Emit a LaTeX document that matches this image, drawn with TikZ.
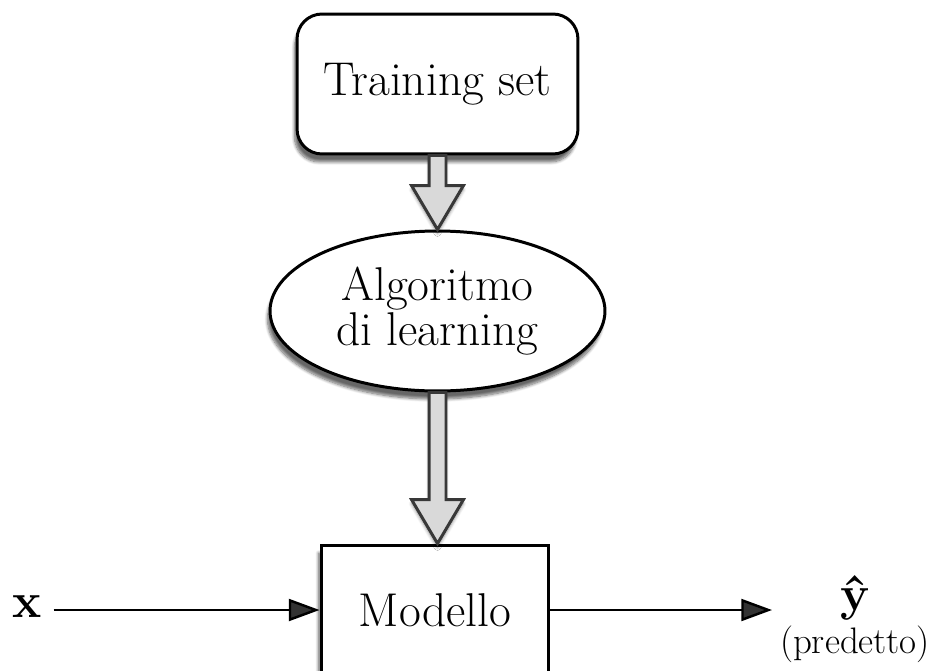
\documentclass[tikz,border=0pt]{standalone}
\usepackage{amsmath}
\usetikzlibrary{arrows.meta,shadows.blur,shapes.geometric,calc}

\definecolor{fatfill}{HTML}{D9D9D9}
\definecolor{fatdraw}{HTML}{383838}

\tikzset{
  labelfont/.style={font=\fontsize{27}{24}\selectfont},
  trainbox/.style={draw,line width=1.7pt,rounded corners=0.5cm,fill=white,
    minimum width=5.62cm,minimum height=2.8cm,labelfont,
    blur shadow={shadow xshift=-0.5mm,shadow yshift=-1.6mm,shadow blur steps=8,shadow opacity=60}},
  algoellipse/.style={draw,ellipse,line width=1.7pt,fill=white,inner sep=0pt,
    minimum width=6.7cm,minimum height=3.2cm,align=center,labelfont,
    blur shadow={shadow xshift=-0.5mm,shadow yshift=-1.6mm,shadow blur steps=8,shadow opacity=60}},
  modelbox/.style={draw,line width=1.7pt,fill=white,
    minimum width=4.56cm,minimum height=2.6cm,labelfont,
    blur shadow={shadow xshift=-0.5mm,shadow yshift=-1.6mm,shadow blur steps=8,shadow opacity=60}},
  fatarrowline/.style={draw=fatdraw,fill=fatfill,line width=1.7pt,line join=miter,
    blur shadow={shadow xshift=0mm,shadow yshift=-0.8mm,shadow blur steps=6,shadow opacity=40}},
  thinarrow/.style={line width=1.4pt,-{Triangle[length=17.5pt,width=12.5pt]}},
  outlabel/.style={anchor=base,inner sep=1pt}
}

% block arrow from the bottom of #1 down to #2
\newcommand{\fatarrow}[2]{%
  \path[fatarrowline] let \p1=(#1), \p2=(#2) in
    (\x1-0.17cm,\y1) -- (\x1-0.17cm,\y2+0.88cm) -- (\x1-0.52cm,\y2+0.88cm)
    -- (\x1,\y2) -- (\x1+0.52cm,\y2+0.88cm) -- (\x1+0.17cm,\y2+0.88cm)
    -- (\x1+0.17cm,\y1) -- cycle;}

\begin{document}
\begin{tikzpicture}[x=0.02cm,y=-0.02cm]
  \useasboundingbox (0,0) rectangle (940,670);

  %NODES
  \node[trainbox] (train) at (437.5,84) {Training set};
  \node[algoellipse] (algo) at (437.5,311) {Algoritmo\\di learning};
  \node[modelbox] (model) at (435,610) {Modello};

  %INPUT / OUTPUT
  \node[outlabel,font=\fontsize{28}{28}\selectfont] (x) at (27,617) {\textbf{x}};
  \node[outlabel,font=\fontsize{28}{28}\selectfont] (yhat) at (855,610) {\textbf{\^{y}}};
  \node[outlabel,font=\fontsize{21}{21}\selectfont] (pred) at (855,653) {(predetto)};
  \coordinate (out) at (772,610);

  %ARROWS
  \fatarrow{train.south}{algo.north}
  \fatarrow{algo.south}{model.north}
  \draw[thinarrow] (x.east |- model.west) ++(10,0) -- (model.west);
  \draw[thinarrow] (model.east) -- (out);
\end{tikzpicture}
\end{document}
